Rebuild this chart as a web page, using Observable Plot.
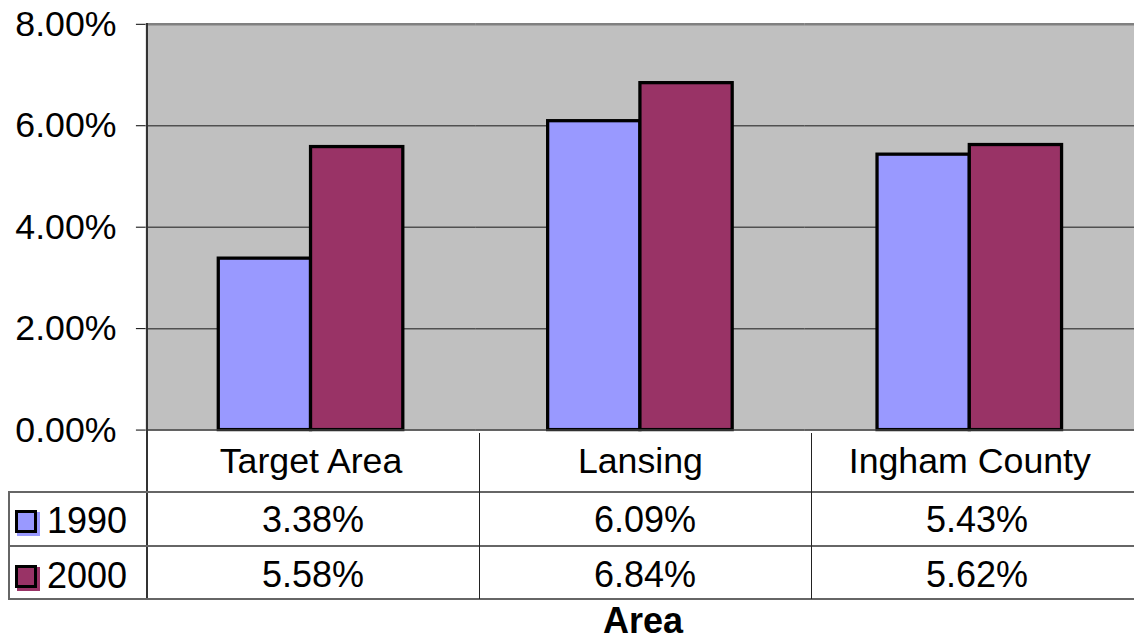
<!DOCTYPE html>
<html>
<head>
<meta charset="utf-8">
<script src="https://cdn.jsdelivr.net/npm/d3@7"></script>
<script src="https://cdn.jsdelivr.net/npm/@observablehq/plot@0.6"></script>
<style>
  html, body { margin: 0; padding: 0; background: #fff; overflow: hidden; }
  #wrap { position: relative; width: 1134px; height: 643px; overflow: hidden; font-family: 'Liberation Sans', Arial, sans-serif; }
  #wrap svg { position: absolute; left: 0; top: 0; }
  .ln { position: absolute; }
  .cell { position: absolute; text-align: center; font-size: 36px; color: #000; white-space: nowrap; }
</style>
</head>
<body>
<div id="wrap"></div>
<script>
const categories = ["Target Area", "Lansing", "Ingham County"];
const years = ["1990", "2000"];
const values1990 = [3.38, 6.09, 5.43];
const values2000 = [5.58, 6.84, 5.62];
const yTicks = [0, 2, 4, 6, 8];
const gridTicks = [2, 4, 6];
const seriesColors = ["#9999FF", "#993366"];
const axisTitle = "Area";

const seriesValues = [values1990, values2000];
const data = [];
categories.forEach((c, i) => years.forEach((y, j) => data.push({category: c, year: y, value: seriesValues[j][i]})));

const fmt = v => v.toFixed(2) + "%";

const chart = Plot.plot({
  width: 1143,
  height: 643,
  marginLeft: 147,
  marginRight: 0,
  marginTop: 24,
  marginBottom: 210,
  style: {fontFamily: "'Liberation Sans', Arial, sans-serif", fontSize: "36px", background: "transparent", color: "#000"},
  fx: {domain: categories, padding: 0, label: null, axis: "bottom", tickSize: 0, tickPadding: 18},
  x: {domain: years, paddingInner: 0, paddingOuter: 0.775, axis: null},
  y: {domain: [0, 8], ticks: yTicks, tickFormat: fmt, tickSize: 10, tickPadding: 20, label: null},
  color: {domain: years, range: seriesColors},
  marks: [
    Plot.frame({fill: "#C0C0C0", stroke: "#C0C0C0", strokeWidth: 1.5}),
    Plot.ruleY(gridTicks, {stroke: "#505050", strokeWidth: 1.5}),
    Plot.ruleY([8], {stroke: "#808080", strokeWidth: 2.5}),
    Plot.barY(data, {fx: "category", x: "year", y: "value", fill: "year", stroke: "#000", strokeWidth: 3.3}),
    Plot.ruleY([0], {stroke: "#404040", strokeWidth: 1.5})
  ]
});

const wrap = document.getElementById("wrap");
wrap.appendChild(chart);

const fxs = chart.scale("fx");
const ys = chart.scale("y");
const y0 = ys.apply(0);
const bw = fxs.bandwidth;
const left0 = fxs.apply(categories[0]);
const rightEnd = fxs.apply(categories[categories.length - 1]) + bw;

const rowBottom = 599;

function line(x, y, w, h, color) {
  const d = document.createElement("div");
  d.className = "ln";
  Object.assign(d.style, {left: x + "px", top: y + "px", width: w + "px", height: h + "px", background: color});
  wrap.appendChild(d);
}
function cell(text, x, w, top, h, extra) {
  const d = document.createElement("div");
  d.className = "cell";
  d.textContent = text;
  Object.assign(d.style, {left: x + "px", width: w + "px", top: top + "px", height: h + "px", lineHeight: h + "px"}, extra || {});
  wrap.appendChild(d);
}

line(left0 - 1, 23, 2, rowBottom - 23 + 1, "#333");
line(8, 491, rightEnd - 8, 1.5, "#666");
line(8, 545, rightEnd - 8, 1.5, "#666");
line(8, 598, rightEnd - 8, 1.5, "#666");
line(8, 491, 1.5, 108, "#666");
categories.slice(1).forEach(c => line(fxs.apply(c) - 0.5, y0, 1.2, rowBottom - y0, "#222"));

const rowCenters = [520, 575];
years.forEach((yr, j) => {
  categories.forEach((c, i) => {
    cell(fmt(seriesValues[j][i]), fxs.apply(c), bw, rowCenters[j] - 27, 54);
  });
  const sh = document.createElement("div");
  Object.assign(sh.style, {position: "absolute", left: "17px", top: (rowCenters[j] - 8) + "px", width: "23px", height: "24px", background: seriesColors[j]});
  wrap.appendChild(sh);
  const sw = document.createElement("div");
  Object.assign(sw.style, {position: "absolute", left: "15px", top: (rowCenters[j] - 10) + "px", width: "16px", height: "17px", background: seriesColors[j], border: "3px solid #000"});
  wrap.appendChild(sw);
  cell(yr, 47, 92, rowCenters[j] - 27 + 1, 54, {textAlign: "left"});
});

cell(axisTitle, left0, rightEnd - left0 - 4, 603, 36, {fontWeight: "bold"});
</script>
</body>
</html>
